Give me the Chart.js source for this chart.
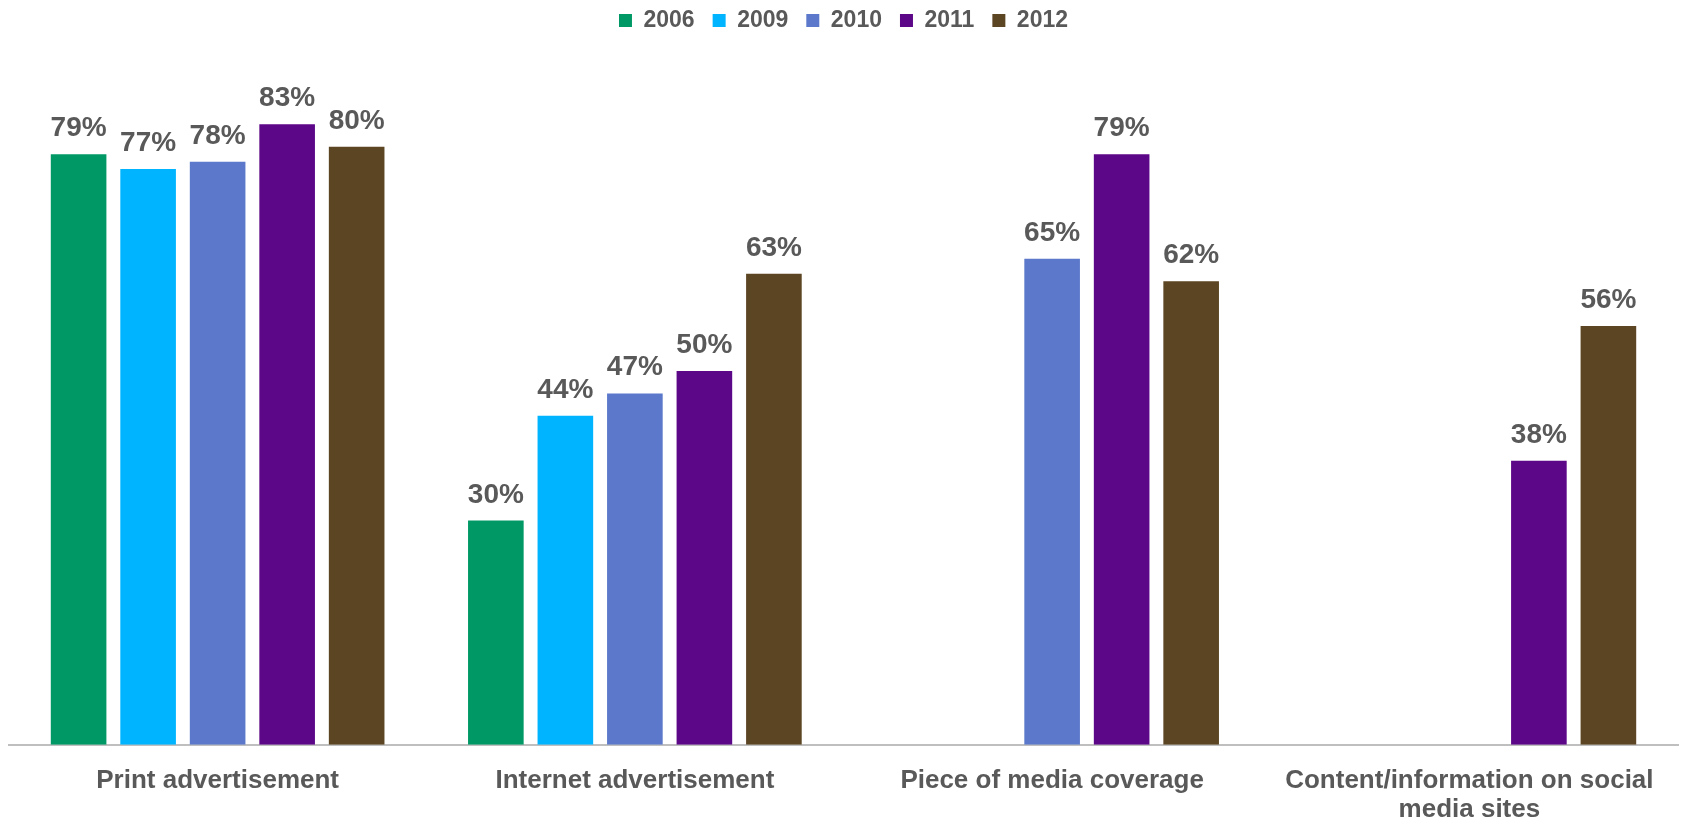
<!DOCTYPE html>
<html>
<head>
<meta charset="utf-8">
<script src="https://cdn.jsdelivr.net/npm/chart.js@4/dist/chart.umd.min.js"></script>
<style>
  html, body { margin: 0; padding: 0; background: #ffffff; }
  #wrap { width: 1681px; height: 818px; }
</style>
</head>
<body>
<div id="wrap"><canvas id="chart" width="1681" height="818"></canvas></div>
<script>
// Share of respondents by source, per survey year
const categories = [
    "Print advertisement",
    "Internet advertisement",
    "Piece of media coverage",
    ["Content/information on social", "media sites"]
];
const years = ["2006", "2009", "2010", "2011", "2012"];
const values2006 = [79, 30, null, null];
const values2009 = [77, 44, null, null];
const values2010 = [78, 47, 65, null];
const values2011 = [83, 50, 79, 38];
const values2012 = [80, 63, 62, 56];
const colors = ["#009966", "#00B4FF", "#5B78CB", "#5C0688", "#5B4522"];

const textGray = "#595959";
const fontFamily = "'Liberation Sans', Arial, sans-serif";

// Percent labels above each bar
const valueLabels = {
    id: "valueLabels",
    afterDatasetsDraw(chart) {
        const ctx = chart.ctx;
        ctx.save();
        ctx.font = "bold 28px " + fontFamily;
        ctx.fillStyle = textGray;
        ctx.textAlign = "center";
        ctx.textBaseline = "alphabetic";
        chart.data.datasets.forEach((ds, i) => {
            const meta = chart.getDatasetMeta(i);
            meta.data.forEach((bar, j) => {
                const v = ds.data[j];
                if (v === null || v === undefined) return;
                ctx.fillText(v + "%", bar.x, bar.y - 18);
            });
        });
        ctx.restore();
    }
};

const seriesValues = [values2006, values2009, values2010, values2011, values2012];

new Chart(document.getElementById("chart").getContext("2d"), {
    type: "bar",
    data: {
        labels: categories,
        datasets: years.map((y, i) => ({
            label: y,
            data: seriesValues[i],
            backgroundColor: colors[i],
            borderWidth: 0,
            categoryPercentage: 0.833,
            barPercentage: 0.8
        }))
    },
    options: {
        responsive: false,
        animation: false,
        layout: { padding: { left: 9, right: 3, top: -9, bottom: -20 } },
        plugins: {
            legend: {
                position: "top",
                labels: {
                    boxWidth: 13,
                    boxHeight: 13,
                    padding: 18,
                    color: textGray,
                    font: { family: fontFamily, size: 23, weight: "bold" }
                }
            },
            tooltip: { enabled: false }
        },
        scales: {
            x: {
                grid: { display: false },
                border: { color: "#BFBFBF", width: 2 },
                ticks: {
                    color: textGray,
                    padding: 14,
                    maxRotation: 0,
                    autoSkip: false,
                    font: { family: fontFamily, size: 26, weight: "bold", lineHeight: 1.1 }
                }
            },
            y: {
                display: false,
                min: 0,
                max: 94
            }
        }
    },
    plugins: [valueLabels]
});
</script>
</body>
</html>
